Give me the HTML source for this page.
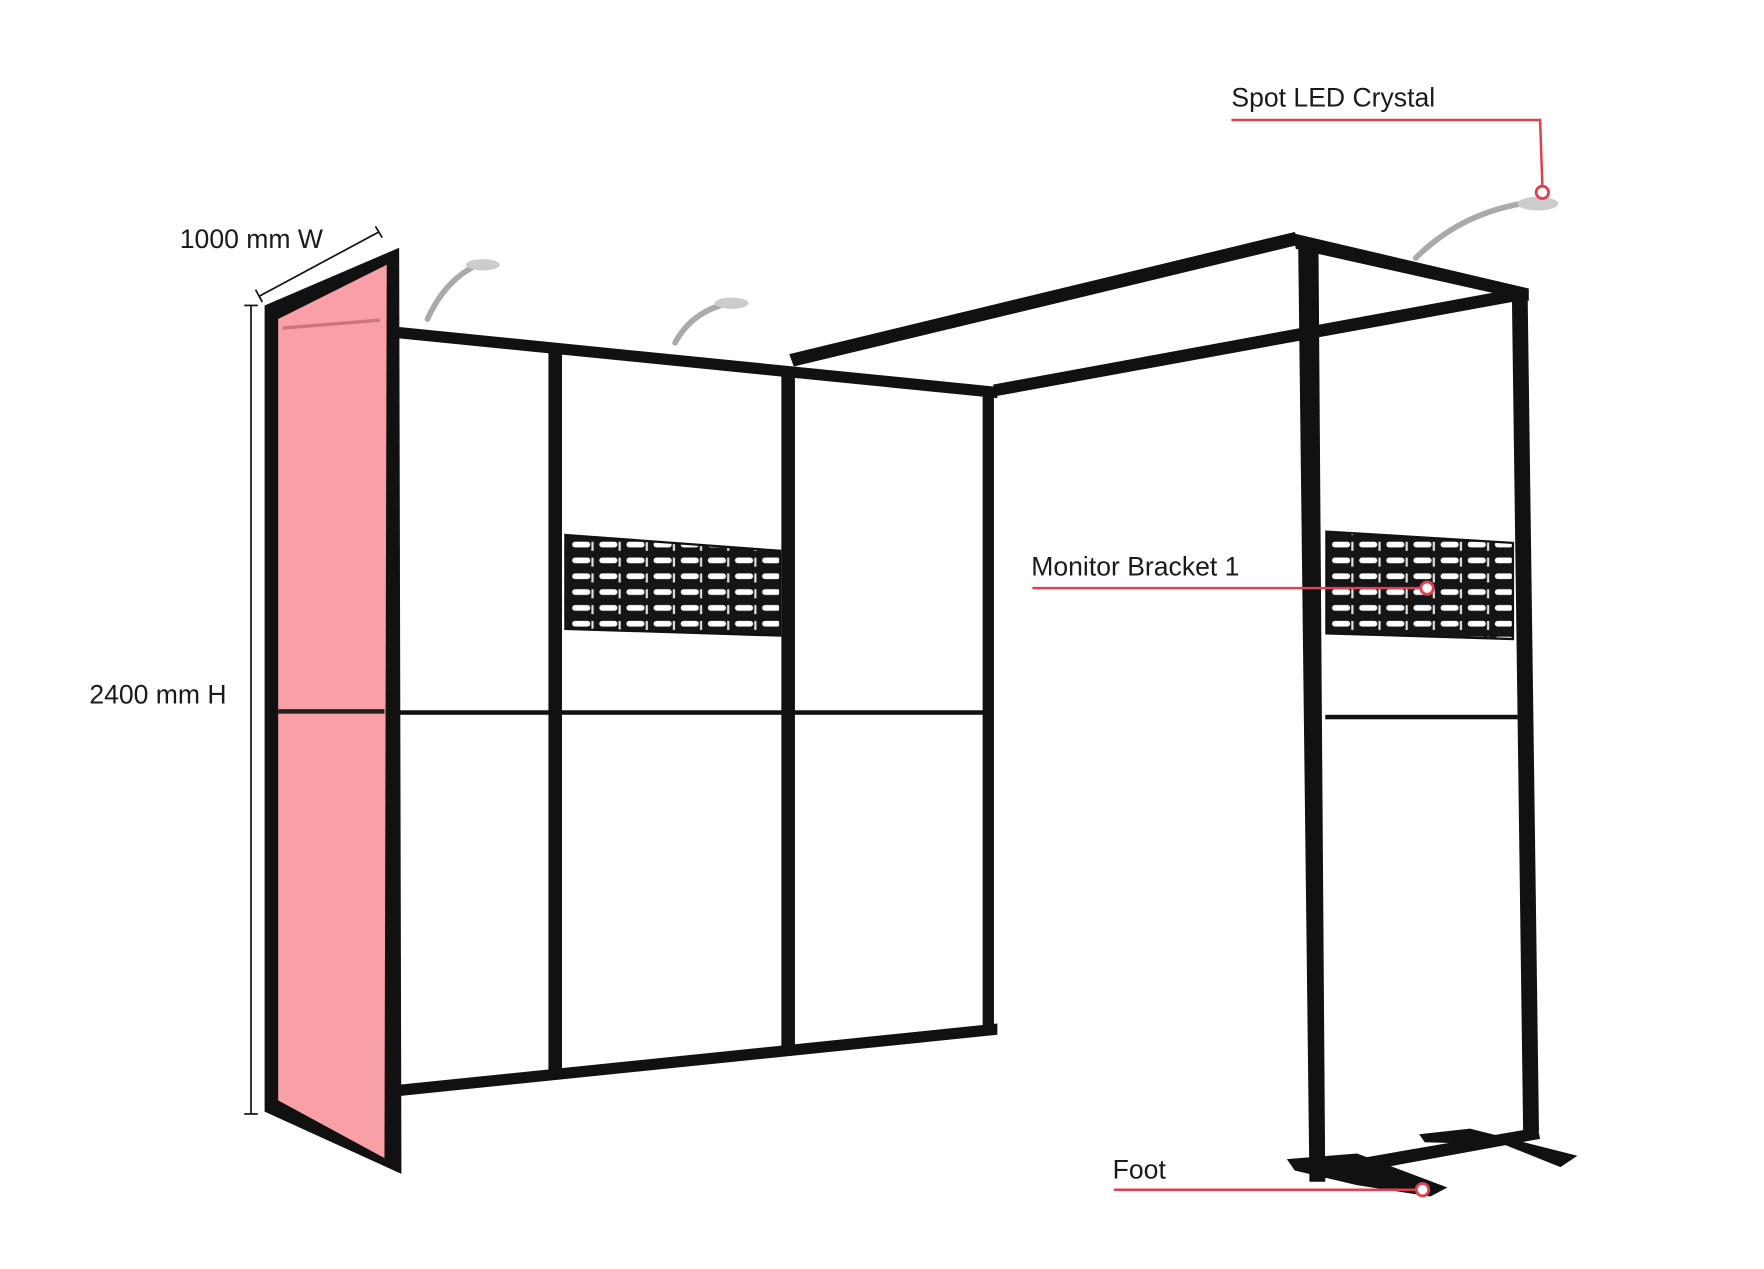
<!DOCTYPE html>
<html><head><meta charset="utf-8"><style>
html,body{margin:0;padding:0;background:#fff;width:1764px;height:1269px;overflow:hidden}
svg{display:block}
text{font-family:"Liberation Sans",Arial,sans-serif;font-size:23.5px;fill:#1a1a1a}
</style></head><body>
<svg width="1764" height="1269" viewBox="0 0 1560 1122" xmlns="http://www.w3.org/2000/svg">
<defs>
<pattern id="slots" width="24" height="14" patternUnits="userSpaceOnUse">
<rect width="24" height="14" fill="#151515"/>
<rect x="2" y="3" width="16" height="5" rx="2.5" fill="#fff"/>
<rect x="19" y="3" width="2" height="8" fill="#ddd"/>
</pattern>
</defs>
<g fill="#111" stroke="none">
<polygon points="698,313 1145,205 1150,216 702,324"/>
<polygon points="878,340 1346,254 1348,265 882,350"/>
<polygon points="1143,206 1352,255 1352,266 1146,220"/>
<polygon points="352,289 882,342 882,352 352,299"/>
<polygon points="345,960 882,905 882,915 345,970"/>
<rect x="485" y="308" width="12" height="644"/>
<rect x="691" y="328" width="12" height="598"/>
<rect x="869" y="345" width="10" height="568"/>
<rect x="343" y="292" width="9" height="680"/>
<rect x="352" y="628" width="518" height="4"/>
<polygon points="1148,212 1166,216 1172,1045 1158,1045"/>
<polygon points="1337,258 1351,262 1361,1000 1347,1002"/>
<polygon points="1158,1032 1360,997 1362,1007 1160,1044"/>
<rect x="1172" y="632" width="170" height="4"/>
<polygon points="1138,1025 1200,1020 1280,1050 1265,1058 1200,1048 1145,1035"/>
<polygon points="1255,1003 1300,998 1395,1022 1380,1032 1330,1012 1260,1010"/>
<polygon points="234,270 353,219 355,1038 234,983"/>
</g>
<polygon points="246,282 342,234 340,1024 246,973" fill="#f9a0a6"/>
<rect x="246" y="627" width="94" height="4" fill="#222"/>
<line x1="250" y1="290" x2="336" y2="283" stroke="#c77" stroke-width="3"/>
<polygon points="500,473 690,487 690,562 500,556" fill="url(#slots)" stroke="#111" stroke-width="2"/>
<polygon points="1173,470 1338,480 1338,565 1173,560" fill="url(#slots)" stroke="#111" stroke-width="2"/>
<g fill="none" stroke="#aaa" stroke-width="5" stroke-linecap="round">
<path d="M378,282 Q395,245 425,233"/>
<path d="M597,303 Q612,275 645,268"/>
<path d="M1252,228 Q1290,190 1345,180"/>
</g>
<g fill="#ccc">
<ellipse cx="427" cy="234" rx="15" ry="5"/>
<ellipse cx="647" cy="268" rx="15" ry="5"/>
<ellipse cx="1360" cy="180" rx="18" ry="6"/>
</g>
<g stroke="#111" stroke-width="1.5">
<line x1="229" y1="262" x2="335" y2="205"/>
<line x1="226" y1="256" x2="232" y2="267"/>
<line x1="332" y1="200" x2="338" y2="210"/>
<line x1="222" y1="270" x2="222" y2="985"/>
<line x1="216" y1="270" x2="228" y2="270"/>
<line x1="216" y1="985" x2="228" y2="985"/>
</g>
<text x="159" y="219">1000 mm W</text>
<text x="79" y="622">2400 mm H</text>
<g stroke="#e0414f" stroke-width="2.2" fill="none">
<polyline points="1089,106 1362,106 1364,165"/>
<line x1="913" y1="520" x2="1256" y2="520"/>
<line x1="985" y1="1052" x2="1252" y2="1052"/>
</g>
<g stroke="#e0414f" stroke-width="2.5" fill="#fff">
<circle cx="1364" cy="170" r="5.5"/>
<circle cx="1262" cy="520" r="5.5"/>
<circle cx="1258" cy="1052" r="5.5"/>
</g>
<text x="1089" y="94">Spot LED Crystal</text>
<text x="912" y="509">Monitor Bracket 1</text>
<text x="984" y="1042">Foot</text>
</svg>
</body></html>
